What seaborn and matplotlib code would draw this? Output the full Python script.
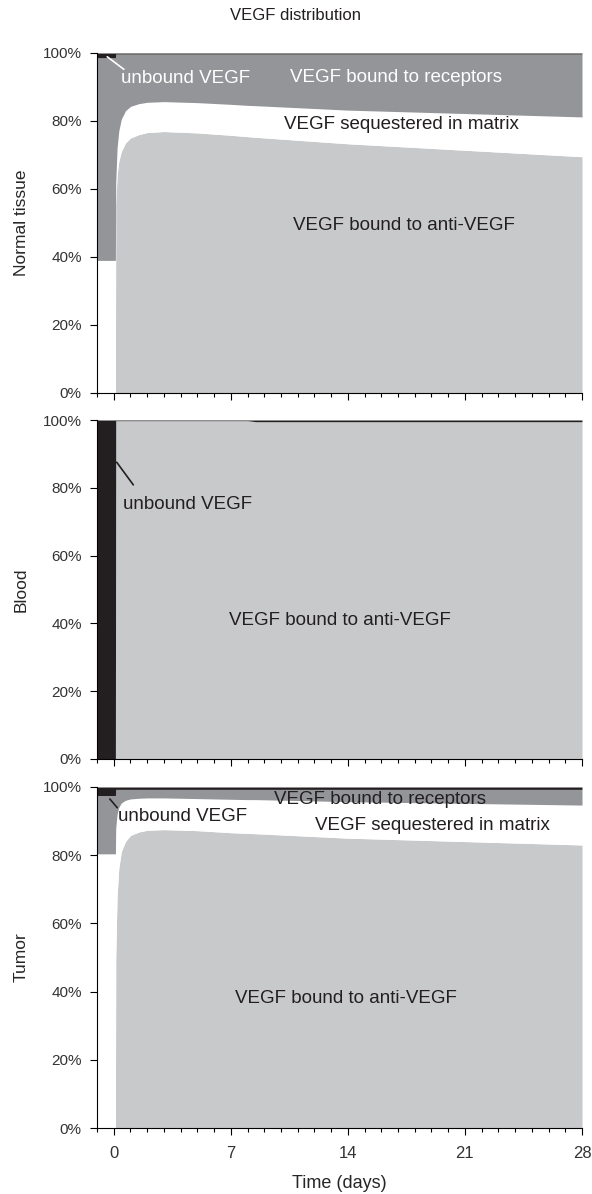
import numpy as np
import pandas as pd
import matplotlib
matplotlib.use("Agg")
import matplotlib.pyplot as plt
from matplotlib.ticker import MultipleLocator, PercentFormatter
import seaborn as sns

# ── DATA (share of total VEGF, %) ─────────────────────────────────────────────
time_days = [-1, 0.1, 0.12, 0.2, 0.3, 0.45, 0.7, 1, 1.5, 2, 3, 5, 7, 8, 8.5, 14, 21, 28]

# normal tissue
nt_anti      = [0, 0, 55, 64, 68, 71, 73.5, 75, 76, 76.6, 76.9, 76.5, 75.8, 75.4, 75.2, 73.3, 71.4, 69.5]
nt_matrix    = [39, 39, 7, 8, 9, 9.5, 9.5, 9.3, 9.1, 8.9, 8.8, 8.9, 9.1, 9.2, 9.3, 9.9, 10.8, 11.7]
nt_receptors = [59.6, 59.6, 37.7, 27.7, 22.7, 19.2, 16.7, 15.4, 14.6, 14.2, 14.0, 14.3, 14.8, 15.1, 15.2, 16.5, 17.5, 18.5]
nt_unbound   = [1.4, 1.4, 0.3, 0.3, 0.3, 0.3, 0.3, 0.3, 0.3, 0.3, 0.3, 0.3, 0.3, 0.3, 0.3, 0.3, 0.3, 0.3]

# blood
bl_anti      = [0, 0, 99.8, 99.8, 99.8, 99.8, 99.8, 99.8, 99.8, 99.8, 99.8, 99.8, 99.8, 99.8, 99.5, 99.5, 99.5, 99.5]
bl_matrix    = [0] * 18
bl_receptors = [0] * 18
bl_unbound   = [100, 100, 0.2, 0.2, 0.2, 0.2, 0.2, 0.2, 0.2, 0.2, 0.2, 0.2, 0.2, 0.2, 0.5, 0.5, 0.5, 0.5]

# tumor
tu_anti      = [0, 0, 50, 68, 76, 81, 84, 85.8, 86.8, 87.3, 87.5, 87.2, 86.6, 86.4, 86.3, 85.0, 84.0, 83.0]
tu_matrix    = [80.4, 80.4, 38, 24, 18, 14.3, 12.1, 10.7, 9.9, 9.5, 9.3, 9.4, 9.8, 9.9, 10.0, 10.7, 11.2, 11.7]
tu_receptors = [17.1, 17.1, 11.3, 7.3, 5.3, 4.0, 3.2, 2.8, 2.6, 2.5, 2.5, 2.7, 2.9, 3.0, 3.0, 3.6, 4.1, 4.6]
tu_unbound   = [2.5, 2.5, 0.7, 0.7, 0.7, 0.7, 0.7, 0.7, 0.7, 0.7, 0.7, 0.7, 0.7, 0.7, 0.7, 0.7, 0.7, 0.7]

panels = ["Normal tissue", "Blood", "Tumor"]
layers = ["anti", "matrix", "receptors", "unbound"]
data = {
    "Normal tissue": [nt_anti, nt_matrix, nt_receptors, nt_unbound],
    "Blood":         [bl_anti, bl_matrix, bl_receptors, bl_unbound],
    "Tumor":         [tu_anti, tu_matrix, tu_receptors, tu_unbound],
}

# ── STYLE ─────────────────────────────────────────────────────────────────────
sns.set_theme(style="ticks")
plt.rcParams.update({
    "font.family": ["Liberation Sans", "DejaVu Sans"],
    "axes.linewidth": 0.8,
    "axes.edgecolor": "black",
    "xtick.color": "black",
    "ytick.color": "black",
    "xtick.labelcolor": "#333333",
    "ytick.labelcolor": "#333333",
    "text.color": "#231f20",
})

LAYER_COLORS = ["#c8c9cb", "#ffffff", "#939598", "#231f20"]
DARK = "#231f20"

W, H = 592, 1194
fig = plt.figure(figsize=(W / 100, H / 100), dpi=100)

# axes boxes in pixels: (top, bottom)
boxes = [(53, 393), (420, 759), (787, 1128)]
left_px, right_px = 97, 582

axes = []
for (top, bot) in boxes:
    ax = fig.add_axes([left_px / W, 1 - bot / H, (right_px - left_px) / W, (bot - top) / H])
    axes.append(ax)

for ax, name in zip(axes, panels):
    df = pd.DataFrame(dict(zip(layers, data[name])), index=time_days)
    ax.stackplot(df.index, *[df[c] for c in layers], colors=LAYER_COLORS, linewidth=0, antialiased=True)
    ax.set_xlim(-1, 28)
    ax.set_ylim(0, 100)
    ax.xaxis.set_major_locator(MultipleLocator(7))
    ax.xaxis.set_minor_locator(MultipleLocator(1))
    ax.yaxis.set_major_locator(MultipleLocator(20))
    ax.yaxis.set_major_formatter(PercentFormatter(decimals=0))
    ax.tick_params(axis="both", which="major", length=5, width=0.8)
    ax.tick_params(axis="y", labelsize=11, pad=6)
    ax.tick_params(axis="x", which="minor", length=3, width=0.8)
    ax.set_ylabel(name, fontsize=12.5)
    ax.yaxis.set_label_coords(-0.14, 0.5)
    sns.despine(ax=ax)
    if name != "Tumor":
        ax.tick_params(axis="x", labelbottom=False)

axes[-1].tick_params(axis="x", labelsize=12, pad=8)
axes[-1].set_xlabel("Time (days)", fontsize=13, labelpad=10)

# ── LABELS ────────────────────────────────────────────────────────────────────
fs = 13.5
ax = axes[0]
ax.annotate("", xy=(-0.52, 99.4), xytext=(0.74, 94.7),
            arrowprops=dict(arrowstyle="-", color="white", lw=1.2))
ax.text(0.44, 92.6, "unbound VEGF", color="white", fontsize=fs, va="center", ha="left")
ax.text(16.9, 92.9, "VEGF bound to receptors", color="white", fontsize=fs, va="center", ha="center")
ax.text(17.2, 79.0, "VEGF sequestered in matrix", color=DARK, fontsize=fs, va="center", ha="center")
ax.text(17.36, 49.4, "VEGF bound to anti-VEGF", color=DARK, fontsize=fs, va="center", ha="center")

ax = axes[1]
ax.annotate("", xy=(0.08, 88.2), xytext=(1.27, 80.2),
            arrowprops=dict(arrowstyle="-", color=DARK, lw=1.2))
ax.text(0.56, 75.2, "unbound VEGF", color=DARK, fontsize=fs, va="center", ha="left")
ax.text(13.5, 41, "VEGF bound to anti-VEGF", color=DARK, fontsize=fs, va="center", ha="center")

ax = axes[2]
ax.annotate("", xy=(-0.34, 97.1), xytext=(0.32, 93.3),
            arrowprops=dict(arrowstyle="-", color=DARK, lw=1.2))
ax.text(0.26, 91.4, "unbound VEGF", color=DARK, fontsize=fs, va="center", ha="left")
ax.text(15.9, 96.2, "VEGF bound to receptors", color=DARK, fontsize=fs, va="center", ha="center")
ax.text(19.05, 88.6, "VEGF sequestered in matrix", color=DARK, fontsize=fs, va="center", ha="center")
ax.text(13.9, 38.1, "VEGF bound to anti-VEGF", color=DARK, fontsize=fs, va="center", ha="center")

fig.text(0.5, 1 - 15 / H, "VEGF distribution", ha="center", va="center", fontsize=12)

fig.savefig("out.png", dpi=100)
